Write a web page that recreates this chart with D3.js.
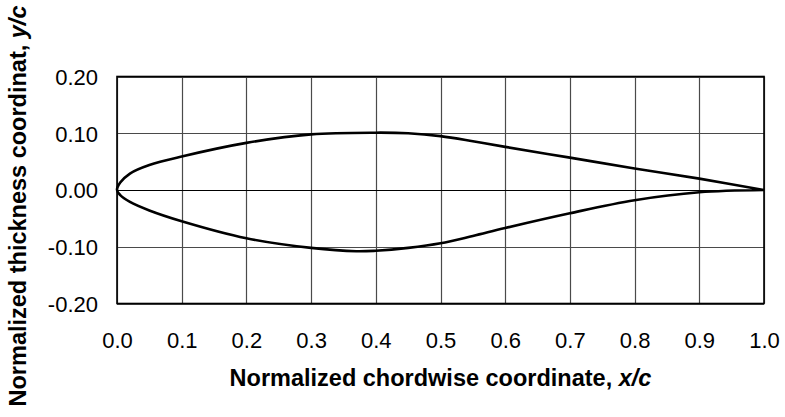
<!DOCTYPE html>
<html>
<head>
<meta charset="utf-8">
<script src="https://cdn.jsdelivr.net/npm/d3@7"></script>
<style>
  body { margin: 0; background: #fff; }
  text { font-family: "Liberation Sans", Arial, sans-serif; fill: #000; }
</style>
</head>
<body>
<svg id="chart" width="785" height="417"></svg>
<script>
// airfoil surfaces
const upperX = [0, 0.005, 0.02, 0.05, 0.1, 0.2, 0.3, 0.4, 0.45, 0.5, 0.55, 0.6, 0.7, 0.8, 0.9, 1.0];
const upperY = [0, 0.013, 0.029, 0.044, 0.059, 0.083, 0.098, 0.101, 0.100, 0.095, 0.086, 0.076, 0.057, 0.038, 0.020, 0];
const lowerX = [0, 0.005, 0.02, 0.05, 0.1, 0.2, 0.3, 0.37, 0.4, 0.45, 0.5, 0.55, 0.6, 0.7, 0.8, 0.9, 1.0];
const lowerY = [0, -0.009, -0.021, -0.036, -0.055, -0.085, -0.102, -0.108, -0.107, -0.102, -0.094, -0.081, -0.067, -0.041, -0.018, -0.004, 0];

const xTicks = [0, 0.1, 0.2, 0.3, 0.4, 0.5, 0.6, 0.7, 0.8, 0.9, 1.0];
const yTicks = [-0.2, -0.1, 0, 0.1, 0.2];

const xTitle = "Normalized chordwise coordinate, ";
const yTitle = "Normalized thickness coordinat, ";

let margin = { left: 117, right: 21, top: 76.5, bottom: 113.5 };
let width = 785, height = 417;

let svg = d3.select("#chart");

// scales
let xScale = d3.scaleLinear()
	.domain([0, 1])
	.range([margin.left, width - margin.right]);

let yScale = d3.scaleLinear()
	.domain([-0.2, 0.2])
	.range([height - margin.bottom, margin.top]);

// grid lines
let grid = svg.append("g").attr("class", "grid");

grid.selectAll(".vgrid")
	.data(xTicks)
	.enter().append("line")
	.attr("x1", d => Math.round(xScale(d)) + 0.5)
	.attr("x2", d => Math.round(xScale(d)) + 0.5)
	.attr("y1", yScale(0.2))
	.attr("y2", yScale(-0.2))
	.style("stroke", "#4a4a4a")
	.style("stroke-width", 1.2);

grid.selectAll(".hgrid")
	.data(yTicks)
	.enter().append("line")
	.attr("x1", xScale(0))
	.attr("x2", xScale(1))
	.attr("y1", d => Math.round(yScale(d)) + 0.5)
	.attr("y2", d => Math.round(yScale(d)) + 0.5)
	.style("stroke", d => d === 0 ? "#000" : "#4a4a4a")
	.style("stroke-width", 1.2);

// plot frame
svg.append("rect")
	.attr("x", xScale(0))
	.attr("y", yScale(0.2))
	.attr("width", xScale(1) - xScale(0))
	.attr("height", yScale(-0.2) - yScale(0.2))
	.style("fill", "none")
	.style("stroke", "#000")
	.style("stroke-width", 1.6);

// y axis labels (plain hyphen for negatives, like the original)
let fmtY = d3.format(".2f");
let yAxis = d3.axisLeft(yScale)
	.tickValues(yTicks)
	.tickSize(0)
	.tickPadding(19)
	.tickFormat(d => fmtY(d).replace("\u2212", "-"));

svg.append("g")
	.attr("transform", "translate(" + xScale(0) + ",0)")
	.call(yAxis)
	.call(g => g.select(".domain").remove())
	.selectAll("text")
	.style("font-size", "22px")
	.style("font-family", "'Liberation Sans', Arial, sans-serif")
	.attr("dy", "0.36em");

// x axis labels
let xAxis = d3.axisBottom(xScale)
	.tickValues(xTicks)
	.tickSize(0)
	.tickPadding(29)
	.tickFormat(d3.format(".1f"));

svg.append("g")
	.attr("transform", "translate(0," + yScale(-0.2) + ")")
	.call(xAxis)
	.call(g => g.select(".domain").remove())
	.selectAll("text")
	.style("font-size", "22px")
	.style("font-family", "'Liberation Sans', Arial, sans-serif");

// axis titles
let xt = svg.append("text")
	.attr("x", (xScale(0) + xScale(1)) / 2)
	.attr("y", 386)
	.attr("text-anchor", "middle")
	.style("font-size", "23.5px")
	.style("font-weight", "bold");
xt.append("tspan").text(xTitle);
xt.append("tspan").style("font-style", "italic").text("x/c");

let yt = svg.append("text")
	.attr("transform", "translate(26," + 206 + ") rotate(-90)")
	.attr("text-anchor", "middle")
	.style("font-size", "23.5px")
	.style("font-weight", "bold");
yt.append("tspan").text(yTitle);
yt.append("tspan").style("font-style", "italic").text("y/c");

// airfoil outline: upper surface from trailing edge to nose, then lower surface back
let outline = upperX.map((x, i) => ({ x: x, y: upperY[i] })).reverse()
	.concat(lowerX.slice(1).map((x, i) => ({ x: x, y: lowerY[i + 1] })));

let line = d3.line()
	.x(d => xScale(d.x))
	.y(d => yScale(d.y))
	.curve(d3.curveCatmullRom.alpha(0.5));

svg.append("path")
	.datum(outline)
	.attr("class", "line")
	.style("fill", "none")
	.style("stroke", "#000")
	.style("stroke-width", 2.6)
	.style("stroke-linejoin", "round")
	.attr("d", line);
</script>
</body>
</html>
